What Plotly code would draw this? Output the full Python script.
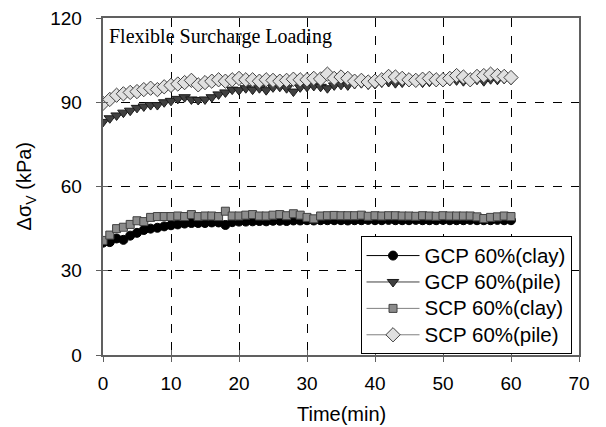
import plotly.graph_objects as go

time_min = list(range(0, 61))

gcp_clay = [40.0, 40.2, 41.5, 41.0, 42.5, 43.5, 44.5, 45.0, 45.3, 45.8,
            46.2, 46.5, 46.8, 47.0, 47.0, 47.0, 47.2, 47.2, 46.3, 47.3,
            47.5, 47.5, 47.6, 47.7, 47.6, 47.8, 47.8, 47.7, 47.9, 47.9,
            48.0, 47.9, 48.0, 48.0, 48.0, 48.0, 47.9, 48.0, 48.0, 48.1,
            48.0, 48.0, 48.1, 48.0, 48.0, 48.0, 48.1, 48.0, 48.0, 48.0,
            48.1, 48.0, 48.0, 48.0, 48.1, 48.0, 48.0, 48.0, 48.1, 48.0, 48.0]

gcp_pile = [83.0, 84.3, 85.3, 86.3, 87.0, 88.0, 88.5, 89.0, 89.0, 90.0,
            90.5, 91.2, 91.8, 91.0, 90.8, 91.0, 91.8, 92.8, 93.5, 94.5,
            94.3, 95.0, 94.5, 95.0, 94.3, 95.3, 95.5, 95.0, 93.8, 95.3,
            95.5, 95.8, 95.5, 95.0, 96.0, 96.2, 96.0, 96.5, 96.8, 96.3,
            96.5, 97.0, 97.2, 96.8, 97.0, 97.3, 97.5, 97.0, 97.3, 97.5,
            97.2, 97.6, 97.8, 97.5, 97.8, 98.0, 97.5, 98.2, 98.0, 98.3, 98.0]

scp_clay = [40.8, 42.7, 45.0, 45.5, 46.5, 47.8, 47.5, 49.0, 49.3, 49.3,
            49.3, 49.5, 49.3, 50.0, 49.3, 49.5, 49.5, 49.3, 51.2, 49.5,
            49.5, 49.8, 50.0, 49.5, 49.5, 49.8, 50.0, 49.6, 50.3, 49.8,
            49.0, 48.5, 49.5, 49.6, 49.7, 49.6, 49.6, 49.6, 49.8, 49.4,
            49.6, 49.5, 49.6, 49.6, 49.5, 49.5, 49.4, 49.6, 49.5, 49.4,
            49.6, 49.5, 49.5, 49.5, 49.5, 49.2, 48.6, 49.0, 49.2, 49.5, 49.3]

scp_pile = [89.6, 91.0, 92.5, 93.0, 93.5, 93.8, 94.5, 95.0, 94.5, 95.5,
            96.0, 96.5, 97.0, 97.8, 96.2, 97.0, 97.5, 98.0, 97.5, 98.0,
            98.5, 98.0, 98.0, 97.5, 98.0, 97.8, 97.5, 97.8, 98.2, 98.0,
            98.0, 98.5, 98.3, 100.0, 98.5, 99.0, 98.5, 97.5, 97.8, 97.2,
            97.5, 98.0, 99.2, 99.0, 98.5, 98.0, 97.8, 98.2, 98.5, 98.0,
            98.0, 98.5, 99.5, 99.0, 98.0, 99.2, 99.5, 100.0, 99.5, 99.2, 98.8]

series_names = ["GCP 60%(clay)", "GCP 60%(pile)", "SCP 60%(clay)", "SCP 60%(pile)"]
x_ticks = [0, 10, 20, 30, 40, 50, 60, 70]
y_ticks = [0, 30, 60, 90, 120]

styles = [
    dict(symbol="circle", size=9, color="#000000", line_color="#000000", lc="#000000"),
    dict(symbol="triangle-down", size=10, color="#404040", line_color="#1a1a1a", lc="#404040"),
    dict(symbol="square", size=8, color="#8c8c8c", line_color="#404040", lc="#808080"),
    dict(symbol="diamond", size=11, color="#e0e0e0", line_color="#404040", lc="#808080"),
]

fig = go.Figure()
for name, ys, st in zip(series_names, [gcp_clay, gcp_pile, scp_clay, scp_pile], styles):
    fig.add_trace(go.Scatter(
        x=time_min, y=ys, name='<span style="font-size:20.5px">' + name + '</span>',
        mode="lines+markers",
        line=dict(color=st["lc"], width=1),
        marker=dict(symbol=st["symbol"], size=st["size"], color=st["color"],
                    line=dict(color=st["line_color"], width=1)),
    ))

# invisible trace to draw crossing (inside) ticks on overlay axes
fig.add_trace(go.Scatter(x=[0], y=[0], xaxis="x2", yaxis="y2", mode="markers",
                         marker=dict(opacity=0), showlegend=False, hoverinfo="skip"))

font_main = "Liberation Sans, Arial, sans-serif"

fig.update_layout(
    width=606, height=427,
    margin=dict(l=95, r=35, t=10, b=80),
    paper_bgcolor="white", plot_bgcolor="white",
    font=dict(family=font_main, size=19, color="#000000"),
    showlegend=True,
    legend=dict(
        x=0.541, y=0.352, xanchor="left", yanchor="top",
        bgcolor="white", bordercolor="#000000", borderwidth=1,
        font=dict(family=font_main, size=18, color="#000000"),
        itemwidth=53, tracegroupgap=0,
    ),
    xaxis=dict(
        range=[0, 70], tickvals=x_ticks, ticktext=[str(v) for v in x_ticks],
        showgrid=True, gridcolor="#000000", griddash="dash", gridwidth=1,
        showline=True, linecolor="#606060", linewidth=1.5, mirror=True,
        ticks="outside", ticklen=5, tickcolor="#606060", ticklabelstandoff=5,
        ticklabeloverflow="allow",
        zeroline=False, automargin=False,
        tickfont=dict(size=19),
    ),
    yaxis=dict(
        range=[0, 120], tickvals=y_ticks,
        ticktext=[str(v) + "\u00a0\u00a0" for v in y_ticks],
        showgrid=True, gridcolor="#000000", griddash="dash", gridwidth=1,
        showline=True, linecolor="#606060", linewidth=1.5, mirror=True,
        ticks="outside", ticklen=5, tickcolor="#606060",
        ticklabeloverflow="allow",
        zeroline=False, automargin=False,
        tickfont=dict(size=19),
    ),
    xaxis2=dict(range=[0, 70], tickvals=x_ticks, overlaying="x",
                ticks="inside", ticklen=5, tickcolor="#606060", automargin=False,
                showticklabels=False, showgrid=False, zeroline=False, showline=False),
    yaxis2=dict(range=[0, 120], tickvals=y_ticks, overlaying="y", automargin=False,
                ticks="inside", ticklen=5, tickcolor="#606060",
                showticklabels=False, showgrid=False, zeroline=False, showline=False),
    annotations=[
        dict(text="Flexible Surcharge Loading", xref="paper", yref="paper",
             x=0.008, y=0.985, xanchor="left", yanchor="top", showarrow=False,
             font=dict(family="Liberation Serif, Times New Roman, serif", size=20, color="#000000")),
        dict(text="Time(min)", xref="paper", yref="paper",
             x=0.5, y=-0.175, xanchor="center", yanchor="middle", showarrow=False,
             font=dict(family=font_main, size=20, color="#000000")),
        dict(text="Δσ<sub>V</sub> (kPa)", xref="paper", yref="paper",
             x=-0.162, y=0.5, xanchor="center", yanchor="middle", showarrow=False,
             textangle=-90,
             font=dict(family=font_main, size=20, color="#000000")),
    ],
)

fig.write_html("out.html")
